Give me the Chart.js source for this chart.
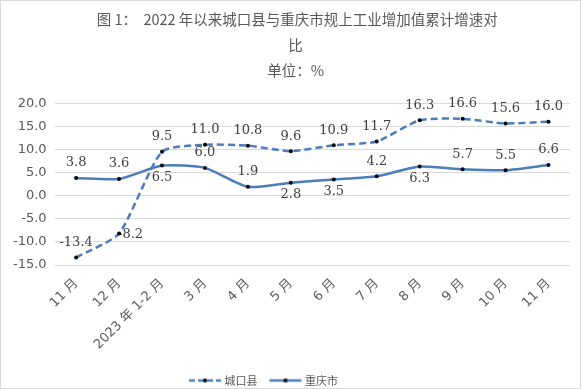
<!DOCTYPE html>
<html>
<head>
<meta charset="utf-8">
<script src="https://cdn.jsdelivr.net/npm/chart.js@4.4.0/dist/chart.umd.min.js"></script>
<style>
  body { margin: 0; background: #fff; }
  #wrap { width: 579px; height: 387px; border: 1px solid #d9d9d9; }
</style>
</head>
<body>
<div id="wrap"><canvas id="c" width="579" height="387"></canvas></div>
<script>
const months = ['11 月', '12 月', '2023 年 1-2 月', '3 月', '4 月', '5 月', '6 月', '7 月', '8 月', '9 月', '10 月', '11 月'];
const chengkou = [-13.4, -8.2, 9.5, 11.0, 10.8, 9.6, 10.9, 11.7, 16.3, 16.6, 15.6, 16.0];
const chongqing = [3.8, 3.6, 6.5, 6.0, 1.9, 2.8, 3.5, 4.2, 6.3, 5.7, 5.5, 6.6];
const yTicks = [-15, -10, -5, 0, 5, 10, 15, 20];

// where each data label sits: a = above, b = below, r = right
const posChengkou = ['a', 'r', 'a', 'a', 'a', 'a', 'a', 'a', 'a', 'a', 'a', 'a'];
const posChongqing = ['a', 'a', 'b', 'a', 'a', 'b', 'b', 'a', 'b', 'a', 'a', 'a'];

const blue = '#4a7dba';
const tickFont = '"DejaVu Sans", "Noto Sans CJK SC"';

// small images for the legend markers
function legendIcon(dashed) {
    const cv = document.createElement('canvas');
    cv.width = 34; cv.height = 8;
    const g = cv.getContext('2d');
    g.strokeStyle = blue;
    g.lineWidth = 2.5;
    if (dashed) g.setLineDash([6, 3]);
    g.beginPath(); g.moveTo(1, 4); g.lineTo(33, 4); g.stroke();
    g.fillStyle = '#000';
    g.beginPath(); g.arc(17, 4, 2, 0, Math.PI * 2); g.fill();
    return cv;
}

const labelPlugin = {
    id: 'valueLabels',
    afterDatasetsDraw(chart) {
        const ctx = chart.ctx;
        ctx.save();
        ctx.font = '13px "DejaVu Serif"';
        ctx.fillStyle = '#404040';
        ctx.textBaseline = 'middle';
        chart.data.datasets.forEach((ds, di) => {
            const meta = chart.getDatasetMeta(di);
            meta.data.forEach((pt, i) => {
                const txt = ds.data[i].toFixed(1);
                const p = ds.labelPos[i];
                if (p === 'r') {
                    ctx.textAlign = 'left';
                    ctx.fillText(txt, pt.x - 1, pt.y + 1);
                } else if (p === 'b') {
                    ctx.textAlign = 'center';
                    ctx.fillText(txt, pt.x, pt.y + 12);
                } else {
                    ctx.textAlign = 'center';
                    ctx.fillText(txt, pt.x, pt.y - 15);
                }
            });
        });
        ctx.restore();
    }
};

// nudge the legend a little to the left, like the original
const legendShift = {
    id: 'legendShift',
    afterLayout(chart) {
        chart.legend.left -= 23;
        chart.legend.right -= 23;
    }
};

new Chart(document.getElementById('c'), {
    type: 'line',
    data: {
        labels: months,
        datasets: [
            {
                label: '城口县',
                data: chengkou,
                labelPos: posChengkou,
                borderColor: blue,
                borderWidth: 2.5,
                borderDash: [7, 4],
                pointStyle: legendIcon(true),
                tension: 0.2,
                fill: false,
            },
            {
                label: '重庆市',
                data: chongqing,
                labelPos: posChongqing,
                borderColor: blue,
                borderWidth: 2.5,
                pointStyle: legendIcon(false),
                tension: 0.2,
                fill: false,
            },
        ],
    },
    options: {
        responsive: false,
        animation: false,
        layout: { padding: { left: 4, right: 10, top: 0, bottom: -8 } },
        elements: {
            point: { radius: 0, hoverRadius: 0 },
        },
        plugins: {
            title: {
                display: true,
                text: ['      图 1：  2022 年以来城口县与重庆市规上工业增加值累计增速对', '     比', '     单位：%'],
                color: '#595959',
                font: { family: '"Noto Sans CJK SC"', size: 14.5, weight: 'normal', lineHeight: 1.75 },
                padding: { top: 6, bottom: 20 },
            },
            legend: {
                position: 'bottom',
                labels: {
                    usePointStyle: true,
                    pointStyleWidth: 28,
                    color: '#595959',
                    font: { family: '"Noto Sans CJK SC"', size: 11 },
                    padding: 14,
                },
            },
            tooltip: { enabled: false },
        },
        scales: {
            x: {
                offset: true,
                grid: { display: false },
                border: { display: false },
                afterFit: (s) => { s.height = 96; },
                ticks: {
                    color: '#595959',
                    font: { family: tickFont, size: 13 },
                    minRotation: 45,
                    maxRotation: 45,
                    autoSkip: false,
                },
            },
            y: {
                min: -15,
                max: 20,
                afterBuildTicks: (axis) => { axis.ticks = yTicks.map(v => ({ value: v })); },
                grid: { color: '#d9d9d9', drawTicks: false },
                border: { display: false },
                ticks: {
                    color: '#595959',
                    font: { family: tickFont, size: 13 },
                    padding: 8,
                    callback: (v) => Number(v).toFixed(1),
                },
            },
        },
    },
    plugins: [labelPlugin, legendShift, {
        id: 'dots',
        afterDatasetsDraw(chart) {
            const ctx = chart.ctx;
            ctx.save();
            ctx.fillStyle = '#000';
            chart.data.datasets.forEach((ds, di) => {
                chart.getDatasetMeta(di).data.forEach(pt => {
                    ctx.beginPath(); ctx.arc(pt.x, pt.y, 2, 0, Math.PI * 2); ctx.fill();
                });
            });
            ctx.restore();
        }
    }],
});
</script>
</body>
</html>
